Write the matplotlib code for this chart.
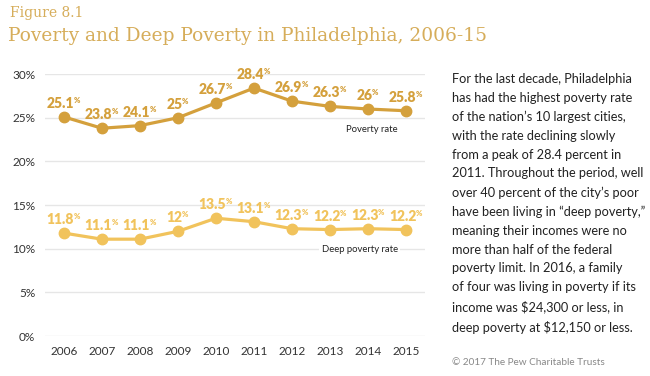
import matplotlib.pyplot as plt

years = [2006, 2007, 2008, 2009, 2010, 2011, 2012, 2013, 2014, 2015]
poverty = [25.1, 23.8, 24.1, 25, 26.7, 28.4, 26.9, 26.3, 26, 25.8]
deep = [11.8, 11.1, 11.1, 12, 13.5, 13.1, 12.3, 12.2, 12.3, 12.2]
yticks = [0, 5, 10, 15, 20, 25, 30]

pov_color = '#d4a03c'
deep_color = '#f1c35c'
title_color = '#d6ad5a'

side_text = ("For the last decade, Philadelphia\n"
             "has had the highest poverty rate\n"
             "of the nation\u2019s 10 largest cities,\n"
             "with the rate declining slowly\n"
             "from a peak of 28.4 percent in\n"
             "2011. Throughout the period, well\n"
             "over 40 percent of the city\u2019s poor\n"
             "have been living in \u201cdeep poverty,\u201d\n"
             "meaning their incomes were no\n"
             "more than half of the federal\n"
             "poverty limit. In 2016, a family\n"
             "of four was living in poverty if its\n"
             "income was $24,300 or less, in\n"
             "deep poverty at $12,150 or less.")

plt.rcParams['font.family'] = ['Lato', 'DejaVu Sans']

fig = plt.figure(figsize=(6.5, 3.76), dpi=100)
ax = fig.add_axes([0.069, 0.106, 0.585, 0.697])

ax.plot(years, poverty, color=pov_color, lw=2.3, marker='o', ms=7.5, zorder=3)
ax.plot(years, deep, color=deep_color, lw=2.3, marker='o', ms=7.5, zorder=3)

def label(x, y, v, c):
    s = ('%g' % v)
    t = ax.annotate(s, (x, y), xytext=(-2.5, 5), textcoords='offset points',
                    ha='center', va='bottom', fontsize=10, fontweight='heavy', color=c)
    ax.annotate('%', xy=(1, 1), xycoords=t, xytext=(-0.5, 0), textcoords='offset points',
                ha='left', va='top', fontsize=5.5, fontweight='heavy', color=c)

for x, v in zip(years, poverty):
    label(x, v, v, pov_color)
for x, v in zip(years, deep):
    label(x, v, v, deep_color)

ax.text(2014.1, 23.6, 'Poverty rate', fontsize=6.8, ha='center', va='center', color='#222222')
ax.text(2013.78, 9.95, 'Deep poverty rate', fontsize=6.8, ha='center', va='center', color='#222222',
        bbox=dict(facecolor='white', edgecolor='none', pad=2))

ax.set_xlim(2005.5, 2015.5)
ax.set_ylim(0, 30)
ax.set_yticks(yticks)
ax.set_yticklabels(['%d%%' % v for v in yticks])
ax.set_xticks(years)
ax.grid(axis='y', color='#e6e6e6', lw=1)
ax.set_axisbelow(True)
for s in ax.spines.values():
    s.set_visible(False)
ax.tick_params(length=0, labelsize=8.5, colors='#333333')
ax.tick_params(axis='y', pad=7)
ax.tick_params(axis='x', pad=7)

fig.text(0.015, 0.965, 'Figure 8.1', fontsize=10, family='DejaVu Serif', color=title_color, va='center')
fig.text(0.012, 0.905, 'Poverty and Deep Poverty in Philadelphia, 2006-15', fontsize=13.4,
         family='DejaVu Serif', color=title_color, va='center')

fig.text(0.695, 0.805, side_text, fontsize=9.2, color='#222222', va='top', ha='left', linespacing=1.67)
fig.text(0.695, 0.035, '\u00a9 2017 The Pew Charitable Trusts', fontsize=7.2, color='#888888', va='center')

fig.savefig('out.png', dpi=100)
